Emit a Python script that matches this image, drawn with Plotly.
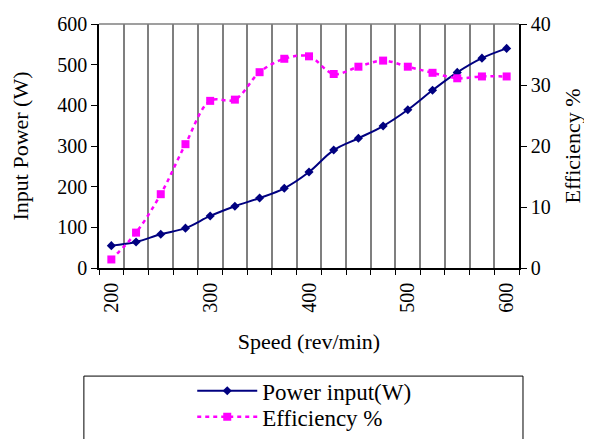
import plotly.graph_objects as go

speed = [200, 225, 250, 275, 300, 325, 350, 375, 400, 425, 450, 475, 500, 525, 550, 575, 600]
power_input = [55, 64, 83, 98, 128, 152, 172, 196, 236, 290, 319, 349, 389, 437, 481, 516, 540]
efficiency = [1.4, 5.8, 12.1, 20.3, 27.4, 27.6, 32.1, 34.3, 34.7, 31.8, 33.0, 34.0, 33.0, 32.0, 31.1, 31.4, 31.4]
x_tick_labels = [200, 300, 400, 500, 600]
left_ticks = [0, 100, 200, 300, 400, 500, 600]
right_ticks = [0, 10, 20, 30, 40]

FONT = "Liberation Serif, Times New Roman, serif"

fig = go.Figure()
fig.add_trace(go.Scatter(
    x=speed, y=power_input, name="Power input(W)", mode="lines+markers",
    line=dict(color="#000080", width=2, shape="spline", smoothing=1),
    marker=dict(symbol="diamond", size=7, color="#000080"),
    yaxis="y", legend="legend"))
fig.add_trace(go.Scatter(
    x=speed, y=efficiency, name="Efficiency %", mode="lines+markers",
    line=dict(color="#FF00FF", width=2.5, dash="4px,4px", shape="spline", smoothing=1),
    marker=dict(symbol="square", size=8, color="#FF00FF"),
    yaxis="y2", legend="legend2"))

legend_style = dict(
    xanchor="left", yanchor="top",
    font=dict(family=FONT, size=23, color="black"),
    bgcolor="rgba(0,0,0,0)", borderwidth=0, itemwidth=60,
)

# page body has an 8px margin, so the figure is drawn 8px smaller and offset
fig.update_layout(
    width=584, height=431,
    margin=dict(l=91, r=73, t=16, b=171, autoexpand=False),
    paper_bgcolor="white", plot_bgcolor="white",
    font=dict(family=FONT, color="black", size=20),
    showlegend=True,
    legend=dict(x=0.222, y=-0.415, **legend_style),
    legend2=dict(x=0.222, y=-0.522, **legend_style),
    xaxis=dict(
        range=[187.5, 612.5], tickmode="array", tickvals=x_tick_labels,
        ticktext=[str(v) for v in x_tick_labels], tickangle=-90,
        ticks="", showgrid=False, zeroline=False, automargin=False,
        showline=True, linecolor="black", linewidth=1.5,
        tickfont=dict(family=FONT, size=20),
        ticklabelstandoff=5,
        minor=dict(tickmode="linear", tick0=187.5, dtick=25, showgrid=True,
                   gridcolor="#7f7f7f", gridwidth=1.5, ticks="outside",
                   ticklen=5, tickcolor="black", tickwidth=1),
        title=dict(text="Speed (rev/min)", font=dict(family=FONT, size=22), standoff=22),
    ),
    yaxis=dict(
        range=[0, 600], tickmode="array", tickvals=left_ticks,
        ticks="outside", ticklen=6, tickcolor="black",
        showgrid=False, zeroline=False, automargin=False,
        showline=True, linecolor="black", linewidth=1.5,
        tickfont=dict(family=FONT, size=20),
        title=dict(text="Input Power (W)", font=dict(family=FONT, size=22), standoff=23),
    ),
    yaxis2=dict(
        range=[0, 40], tickmode="array", tickvals=right_ticks,
        overlaying="y", side="right", automargin=False,
        ticks="outside", ticklen=6, tickcolor="black",
        showgrid=False, zeroline=False,
        showline=True, linecolor="black", linewidth=1.5,
        tickfont=dict(family=FONT, size=20),
        title=dict(text="Efficiency %", font=dict(family=FONT, size=22), standoff=15),
    ),
    shapes=[
        dict(type="line", xref="paper", yref="paper", x0=0, x1=1, y0=1, y1=1,
             line=dict(color="#7f7f7f", width=1.5)),
        dict(type="rect", xref="paper", yref="paper", x0=-0.036, x1=1.0095,
             y0=-0.443, y1=-0.75, line=dict(color="black", width=1)),
    ],
)

fig.write_html("out.html")
